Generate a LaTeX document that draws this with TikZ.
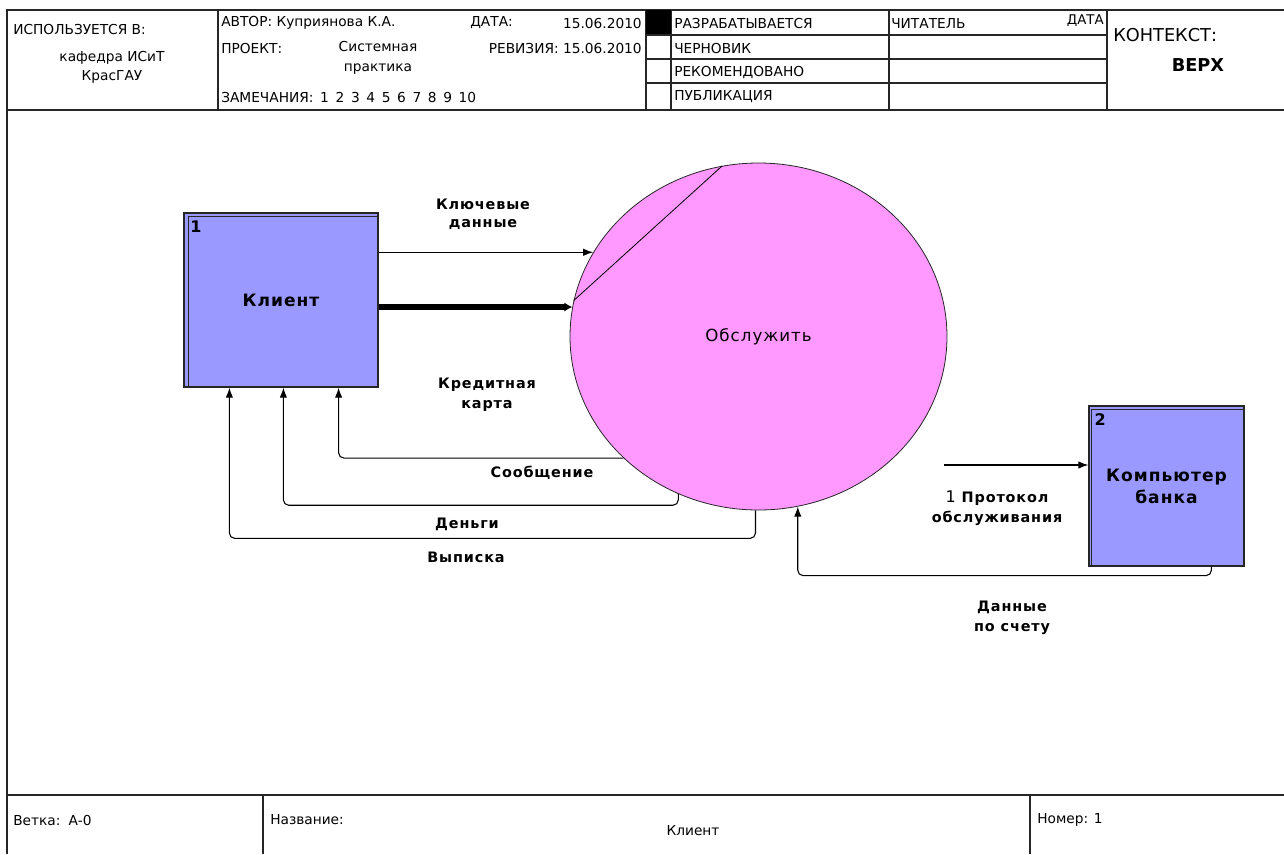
\documentclass[tikz,border=0pt]{standalone}
\usepackage{fontspec}
\setmainfont{DejaVu Sans}
\newfontfamily\lblfont{DejaVu Sans}[LetterSpace=6]
\usetikzlibrary{shapes.geometric, arrows.meta, positioning, calc}
\usepackage{xcolor}
\definecolor{entfill}{HTML}{9999FF}
\definecolor{procfill}{HTML}{FF99FF}
\tikzset{
  ent/.style    ={rectangle, draw=black!85, fill=entfill, line width=0.9pt,
                  align=center, font=\lblfont\bfseries\fontsize{12.8}{16.5}\selectfont},
  proc/.style   ={ellipse, draw=black!85, fill=procfill, line width=0.6pt, inner sep=0pt,
                  minimum width=282.75pt, minimum height=260.25pt,
                  font=\lblfont\fontsize{12.5}{14}\selectfont},
  num/.style    ={inner sep=0pt, font=\bfseries\fontsize{12}{14}\selectfont},
  lbl/.style    ={align=center, inner sep=0pt, font=\lblfont\bfseries\fontsize{10.8}{15}\selectfont},
  form/.style   ={inner sep=0pt, anchor=west, font=\fontsize{10.3}{12}\selectfont},
  frame/.style  ={line width=1pt, black!85},
  flow/.style   ={-{Latex[length=7.5pt, width=5.5pt]}, line width=0.8pt},
  bigflow/.style={-{Latex[length=6pt, width=7pt]}, line width=4.3pt},
}
\begin{document}
\begin{tikzpicture}[x=0.75pt, y=-0.75pt]
  \useasboundingbox (0,0) rectangle (1284,854);
  % form frame
  \draw[frame] (1284,10) -- (7,10) -- (7,854);
  \draw[frame] (7,110) -- (1284,110);
  \draw[frame, line width=1.6pt] (7,795) -- (1284,795);
  \foreach \x in {218,646,671,889,1107} \draw[frame] (\x,10) -- (\x,110);
  \foreach \y in {35,59,83} \draw[frame] (646,\y) -- (1107,\y);
  \fill (646,10) rectangle (671,34);
  \foreach \x in {263,1030} \draw[frame] (\x,795) -- (\x,854);

  % header texts
  \node[form] (usedin) at (13,29) {ИСПОЛЬЗУЕТСЯ В:};
  \node[form, anchor=center, align=center, font=\fontsize{10.3}{14.25}\selectfont] (dept) at (112,67.5) {кафедра ИСиТ\\КрасГАУ};
  \node[form] (author) at (221,23) {АВТОР: Куприянова К.А.};
  \node[form] (datek) at (470,23) {ДАТА:};
  \node[form, anchor=east] (datev) at (642,23) {15.06.2010};
  \node[form] (project) at (221,48) {ПРОЕКТ:};
  \node[form, anchor=center, align=center, font=\fontsize{10.3}{15}\selectfont] (projv) at (378,58) {Системная\\практика};
  \node[form, anchor=east] (rev) at (642,48) {РЕВИЗИЯ: 15.06.2010};
  \node[form] (notes) at (221,97) {ЗАМЕЧАНИЯ:\, 1\, 2\, 3\, 4\, 5\, 6\, 7\, 8\, 9\, 10};
  \node[form] (st1) at (674,23) {РАЗРАБАТЫВАЕТСЯ};
  \node[form] (st2) at (674,48) {ЧЕРНОВИК};
  \node[form] (st3) at (674,72) {РЕКОМЕНДОВАНО};
  \node[form] (st4) at (674,97) {ПУБЛИКАЦИЯ};
  \node[form] (reader) at (891,23) {ЧИТАТЕЛЬ};
  \node[form, anchor=east, font=\fontsize{10}{12}\selectfont] (rdate) at (1104,21) {ДАТА};
  \node[form, font=\fontsize{13.3}{15}\selectfont] (context) at (1113,35) {КОНТЕКСТ:};
  \node[form, anchor=center, font=\bfseries\fontsize{13.3}{15}\selectfont] (top) at (1198,65) {ВЕРХ};

  % footer texts
  \node[form] (node) at (13,820) {Ветка:\, А-0};
  \node[form] (title) at (270,820) {Название:};
  \node[form, anchor=center] (titlev) at (693,831) {Клиент};
  \node[form] (number) at (1037,820) {Номер: 1};

  % diagram
  \node[ent, minimum width=145.5pt, minimum height=130.5pt] (client) at (281,300) {Клиент};
  \draw[line width=0.8pt, black!85] ([xshift=3.5pt]client.south west) |- ([yshift=-3pt]client.north east);
  \node[num, anchor=north west] (n1) at ([shift={(5pt,-6pt)}]client.north west) {1};

  \node[ent, minimum width=116.25pt, minimum height=120pt] (bank) at (1166.5,486) {Компьютер\\банка};
  \draw[line width=0.8pt, black!85] ([xshift=2.5pt]bank.south west) |- ([yshift=-3pt]bank.north east);
  \node[num, anchor=north west] (n2) at ([shift={(4.5pt,-6pt)}]bank.north west) {2};

  \node[proc] (serve) at (758.5,336.5) {Обслужить};
  \draw[line width=0.6pt] (serve.169) -- (serve.102);

  \draw[flow] (client.east |- serve.153) -- (serve.153);
  \draw[bigflow] (client.east |- serve.171) -- (serve.171);
  \draw[flow, rounded corners=4pt] (serve.222) -| ([xshift=-30pt]client.south east);
  \draw[flow, rounded corners=4pt] (serve.243) -- ++(0,-8.5pt) -| ([xshift=75pt]client.south west);
  \draw[flow, rounded corners=4pt] (serve.269) -- ++(0,-21pt) -| ([xshift=34.5pt]client.south west);
  \coordinate (pstart) at (944,465);
  \draw[flow] (pstart) -- (bank.west |- pstart);
  \draw[flow, rounded corners=4pt] ([xshift=92.25pt]bank.south west) -- ++(0,-6.75pt) -| (serve.283);

  % labels
  \node[lbl, font=\lblfont\bfseries\fontsize{10.8}{13.5}\selectfont] (lkey) at (483,214) {Ключевые\\данные};
  \node[lbl] (lcard) at (487,395) {Кредитная\\карта};
  \node[lbl] (lmsg) at (542,473) {Сообщение};
  \node[lbl] (lmoney) at (467,524) {Деньги};
  \node[lbl] (lstmt) at (466,557) {Выписка};
  \node[lbl] (lproto) at (997,508) {{\mdseries\fontsize{12}{13}\selectfont 1} Протокол\\обслуживания};
  \node[lbl] (lacc) at (1012,618) {Данные\\по счету};
\end{tikzpicture}
\end{document}
